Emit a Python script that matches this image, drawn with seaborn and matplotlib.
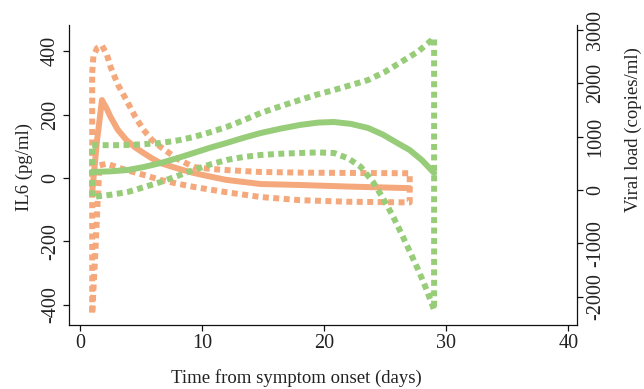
import numpy as np
import pandas as pd
import matplotlib
matplotlib.use("Agg")
import matplotlib.pyplot as plt
import seaborn as sns

# ---------------- data ----------------
# IL6 (left axis, orange)
il6_fit_x = [1, 1.4, 1.8, 2.2, 2.5, 3.1, 3.8, 4.5, 5.2, 5.9, 6.6, 8, 9.3, 10.6, 12, 14.8, 18, 22, 27]
il6_fit_y = [-44, 120, 246, 218, 193, 152, 120, 97, 79, 62, 47, 30, 16, 5, -6, -19, -22, -27, -32]
il6_up_x = [1, 1.1, 1.4, 1.8, 2.2, 2.5, 3.1, 3.8, 4.5, 5.2, 5.9, 6.6, 8, 9.3, 10.6, 12, 14.8, 18, 22, 27]
il6_up_y = [332, 385, 410, 418, 390, 351, 295, 246, 195, 152, 120, 98, 60, 35, 29, 25, 19, 17, 16, 15]
il6_lo_x = [1, 1.25, 1.45, 1.6, 2.2, 3.0, 3.8, 5.2, 6.6, 8, 9.3, 12, 14.8, 18, 22, 27]
il6_lo_y = [-430, -240, -70, 40, 45, 35, 25, 10, -6, -18, -28, -45, -60, -70, -75, -77]

# Viral load (right axis, green)
vl_fit_x = [1, 2.5, 3.9, 5.2, 6.6, 8, 9.3, 10.6, 12, 13.4, 14.8, 16.4, 18, 19.5, 20.8, 22.2, 23.6, 24.8, 26, 27, 28, 29]
vl_fit_y = [338, 350, 375, 430, 506, 600, 694, 790, 882, 980, 1069, 1150, 1220, 1265, 1276, 1240, 1163, 1040, 880, 750, 560, 319]
vl_up_x = [1, 2.5, 3.9, 5.2, 6.6, 8, 9.3, 10.6, 12, 13.4, 14.8, 16.4, 18, 19.4, 20.8, 22.2, 23.6, 25, 26.3, 27.7, 29]
vl_up_y = [844, 840, 844, 860, 882, 930, 994, 1080, 1182, 1310, 1445, 1570, 1689, 1790, 1876, 1970, 2064, 2220, 2402, 2600, 2852]
vl_lo_x = [1, 2.5, 3.9, 5.2, 6.6, 8, 9.3, 10.6, 12, 13.4, 14.8, 16.4, 18, 19.5, 20.8, 22, 23, 24, 24.9, 25.6, 26.3, 27, 27.7, 28.4, 29]
vl_lo_y = [-131, -90, -38, 50, 150, 265, 375, 475, 563, 620, 657, 680, 694, 705, 694, 590, 432, 150, -188, -480, -807, -1150, -1500, -1880, -2251]

x_ticks = [0, 10, 20, 30, 40]
il6_ticks = [-400, -200, 0, 200, 400]
vl_ticks = [-2000, -1000, 0, 1000, 2000, 3000]

ORANGE = "#F4A87B"
GREEN = "#97CC79"

# ---------------- style ----------------
sns.set_style("ticks")
plt.rcParams["font.family"] = ["Liberation Serif", "DejaVu Serif"]
plt.rcParams["axes.edgecolor"] = "#111111"
plt.rcParams["axes.linewidth"] = 0.9
plt.rcParams["axes.unicode_minus"] = False

def outline(ux, uy, lx, ly):
    # closed outline of a confidence band (upper forward, lower backward)
    xs = list(ux) + list(lx[::-1]) + [ux[0]]
    ys = list(uy) + list(ly[::-1]) + [uy[0]]
    return pd.DataFrame({"x": xs, "y": ys})

il6_fit = pd.DataFrame({"x": il6_fit_x, "y": il6_fit_y})
il6_band = outline(il6_up_x, il6_up_y, il6_lo_x, il6_lo_y)
vl_fit = pd.DataFrame({"x": vl_fit_x, "y": vl_fit_y})
vl_band = outline(vl_up_x, vl_up_y, vl_lo_x, vl_lo_y)

fig = plt.figure(figsize=(6.44, 3.89), dpi=100)
ax = fig.add_axes([69 / 644, 1 - 325 / 389, 508 / 644, 300 / 389])
ax2 = ax.twinx()

dot = (0, (1.0, 0.75))
lw = 4.3

sns.lineplot(data=il6_band, x="x", y="y", ax=ax, sort=False, estimator=None,
             color=ORANGE, lw=lw, linestyle=dot, dash_capstyle="butt")
sns.lineplot(data=il6_fit, x="x", y="y", ax=ax, sort=False, estimator=None,
             color=ORANGE, lw=lw, solid_joinstyle="round")

sns.lineplot(data=vl_band, x="x", y="y", ax=ax2, sort=False, estimator=None,
             color=GREEN, lw=lw, linestyle=dot, dash_capstyle="butt")
sns.lineplot(data=vl_fit, x="x", y="y", ax=ax2, sort=False, estimator=None,
             color=GREEN, lw=lw, solid_joinstyle="round")

ax.set_xlim(-0.9, 40.7)
ax.set_ylim(-464, 483)
ax2.set_ylim(-2533, 3096)

ax.set_xticks(x_ticks)
ax.set_yticks(il6_ticks)
ax2.set_yticks(vl_ticks)

for a in (ax, ax2):
    a.spines["top"].set_visible(False)
    a.tick_params(length=4.5, width=0.9, color="#111111", labelsize=14.5,
                  labelcolor="#222222", pad=2)
ax.spines["right"].set_visible(False)
ax2.spines["left"].set_visible(False)
ax2.spines["bottom"].set_visible(False)
ax2.spines["right"].set_visible(True)

for lab in ax.get_yticklabels():
    lab.set_rotation(90)
    lab.set_va("center")
for lab in ax2.get_yticklabels():
    lab.set_rotation(90)
    lab.set_va("center")

ax.set_xlabel("Time from symptom onset (days)", fontsize=13.5, color="#222222")
ax.set_ylabel("IL6 (pg/ml)", fontsize=13.5, color="#222222")
ax2.set_ylabel("Viral load (copies/ml)", fontsize=13.5, color="#222222")

ax.xaxis.set_label_coords(0.447, -0.177)
ax.xaxis.label.set_va("center")
ax.yaxis.set_label_coords(-0.0886, 0.527)
ax.yaxis.label.set_va("center"); ax.yaxis.label.set_ha("center")
ax2.yaxis.set_label_coords(1.110, 0.65)
ax2.yaxis.label.set_rotation(90)
ax2.yaxis.label.set_va("center"); ax2.yaxis.label.set_ha("center")

fig.savefig("out.png", dpi=100)
